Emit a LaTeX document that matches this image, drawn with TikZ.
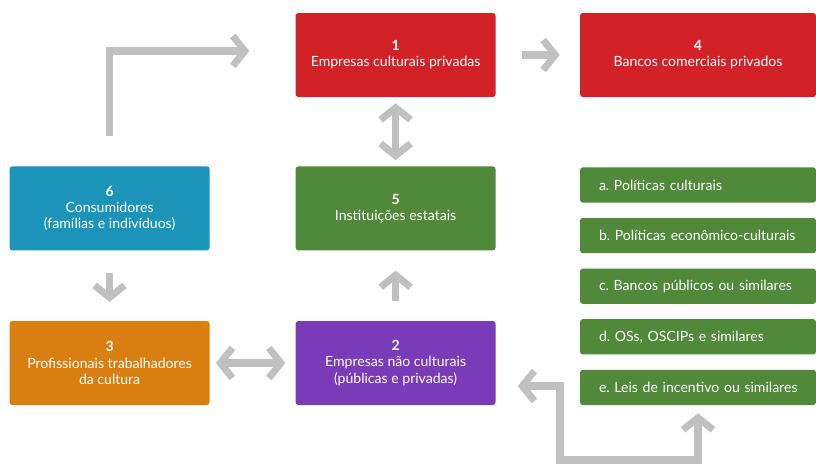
\documentclass[tikz,border=0pt]{standalone}
\usepackage{fontspec}
\setmainfont{Lato}
\frenchspacing
\usetikzlibrary{arrows,arrows.meta,shapes,positioning}

\definecolor{redbox}{RGB}{210,33,39}
\definecolor{bluebox}{RGB}{28,148,186}
\definecolor{greenbox}{RGB}{80,137,58}
\definecolor{orangebox}{RGB}{217,127,18}
\definecolor{purplebox}{RGB}{121,59,184}
\definecolor{arrowgray}{RGB}{192,192,192}

\begin{document}
\begin{tikzpicture}[auto, node distance=1.265cm]

\tikzset{
    bigbox/.style={
        rectangle,
        rounded corners=2pt,
        minimum width=5cm,
        minimum height=2.1cm,
        align=center,
        text=white,
        font=\fontsize{10}{11.5}\selectfont
    },
    listbox/.style={
        rectangle,
        rounded corners=2pt,
        fill=greenbox,
        text=white,
        text width=5.9cm,
        inner xsep=0pt,
        inner ysep=0pt,
        minimum height=0.88cm,
        align=left,
        execute at begin node=\hspace*{0.475cm},
        font=\fontsize{10}{11.5}\selectfont
    },
    flow/.style={
        draw=arrowgray,
        line width=5pt,
        -{Straight Barb[length=3mm,width=7.5mm]}
    },
    dflow/.style={
        draw=arrowgray,
        line width=5pt,
        {Straight Barb[length=3mm,width=7.5mm]}-{Straight Barb[length=3mm,width=7.5mm]}
    }
}

\useasboundingbox (0,0) rectangle (20.4,-11.6);

\node[bigbox, fill=redbox] (one) at (9.89,-1.375) {\textbf{1}\\Empresas culturais privadas};
\node[bigbox, fill=redbox, minimum width=5.9cm] (four) at (17.45,-1.375) {\textbf{4}\\Bancos comerciais privados};
\node[bigbox, fill=bluebox] (six) at (2.74,-5.21) {\textbf{6}\\Consumidores\\(famílias e indivíduos)};
\node[bigbox, fill=greenbox] (five) at (9.89,-5.21) {\textbf{5}\\Instituições estatais};
\node[bigbox, fill=orangebox] (three) at (2.74,-9.075) {\textbf{3}\\Profissionais trabalhadores\\da cultura};
\node[bigbox, fill=purplebox] (two) at (9.89,-9.075) {\textbf{2}\\Empresas não culturais\\(públicas e privadas)};

\node[listbox] (pa) at (17.45,-4.625) {a. Políticas culturais};
\node[listbox, below of = pa] (pb) {b. Políticas econômico-culturais};
\node[listbox, below of = pb] (pc) {c. Bancos públicos ou similares};
\node[listbox, below of = pc] (pd) {d. OSs, OSCIPs e similares};
\node[listbox, below of = pd] (pe) {e. Leis de incentivo ou similares};

\coordinate (elbow) at (14.0,-11.5);

\draw[flow, shorten <=0.75cm, shorten >=1.15cm] (six.north) |- ([yshift=0.1cm]one.west);
\draw[flow, shorten <=0.65cm, shorten >=0.5cm] (one.east) -- (four.west);
\draw[dflow, shorten <=0.15cm, shorten >=0.15cm] (one.south) -- (five.north);
\draw[flow, shorten <=0.55cm, shorten >=0.47cm] (six.south) -- (three.north);
\draw[flow, shorten <=0.5cm, shorten >=0.5cm] (two.north) -- (five.south);
\draw[dflow, shorten <=0.15cm, shorten >=0.25cm] (three.east) -- (two.east -| two.west);
\draw[dflow, shorten <=0.55cm, shorten >=0.2cm] ([yshift=-0.575cm]two.east) -| (elbow) -| (pe.south);
    %
\end{tikzpicture}
\end{document}
